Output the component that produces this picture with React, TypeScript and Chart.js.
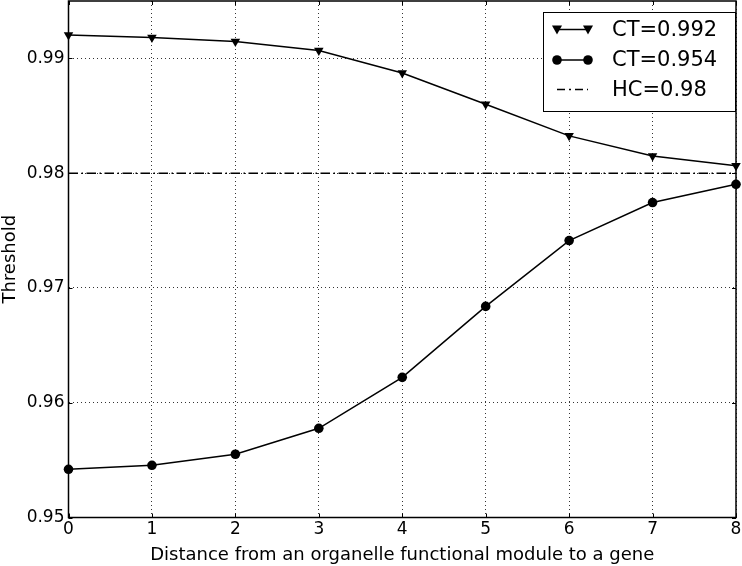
import React, { useEffect, useRef } from "react";
import { Chart, registerables } from "chart.js";

Chart.register(...registerables);

const distances = [0, 1, 2, 3, 4, 5, 6, 7, 8];
const ct992 = [0.99203, 0.99183, 0.99148, 0.99068, 0.98872, 0.98600, 0.98325, 0.98150, 0.98065];
const ct954 = [0.95420, 0.95455, 0.95551, 0.95777, 0.96221, 0.96839, 0.97413, 0.97744, 0.97903];
const hcValue = 0.98;
const yTicks = [0.95, 0.96, 0.97, 0.98, 0.99];
const xTicks = [0, 1, 2, 3, 4, 5, 6, 7, 8];
const legendLabels = ["CT=0.992", "CT=0.954", "HC=0.98"];

const FONT = "'DejaVu Sans', sans-serif";

export default function App() {
  const ref = useRef<HTMLCanvasElement | null>(null);

  useEffect(() => {
    if (!ref.current) return;

    const framePlugin = {
      id: "frame",
      afterDatasetsDraw(chart: any) {
        const { ctx, chartArea: a, scales } = chart;
        ctx.save();
        ctx.strokeStyle = "#000";
        ctx.lineWidth = 1;
        const tl = 4;
        xTicks.forEach((v) => {
          const x = Math.round(scales.x.getPixelForValue(v)) + 0.5;
          ctx.beginPath();
          ctx.moveTo(x, a.bottom);
          ctx.lineTo(x, a.bottom - tl);
          ctx.moveTo(x, a.top);
          ctx.lineTo(x, a.top + tl);
          ctx.stroke();
        });
        yTicks.forEach((v) => {
          const y = Math.round(scales.y.getPixelForValue(v)) + 0.5;
          ctx.beginPath();
          ctx.moveTo(a.left, y);
          ctx.lineTo(a.left + tl, y);
          ctx.moveTo(a.right, y);
          ctx.lineTo(a.right - tl, y);
          ctx.stroke();
        });
        ctx.lineWidth = 1.5;
        ctx.strokeRect(a.left, a.top, a.right - a.left, a.bottom - a.top);
        ctx.restore();
      },
      afterDraw(chart: any) {
        const { ctx } = chart;
        const bx = 543, by = 12, bw = 192, bh = 99;
        ctx.save();
        ctx.fillStyle = "#fff";
        ctx.fillRect(bx, by, bw, bh);
        ctx.strokeStyle = "#000";
        ctx.lineWidth = 1;
        ctx.strokeRect(bx + 0.5, by + 0.5, bw, bh);
        const rows = [29.5, 60, 89.5];
        const x1 = 557, x2 = 588;
        rows.forEach((y, i) => {
          ctx.strokeStyle = "#000";
          ctx.fillStyle = "#000";
          ctx.lineWidth = 1.5;
          if (i === 2) {
            ctx.setLineDash([8, 4, 2, 4]);
          } else {
            ctx.setLineDash([]);
          }
          ctx.beginPath();
          ctx.moveTo(x1, y);
          ctx.lineTo(x2, y);
          ctx.stroke();
          ctx.setLineDash([]);
          [x1, x2].forEach((mx) => {
            if (i === 0) {
              ctx.beginPath();
              ctx.moveTo(mx - 5, y - 4);
              ctx.lineTo(mx + 5, y - 4);
              ctx.lineTo(mx, y + 5);
              ctx.closePath();
              ctx.fill();
            } else if (i === 1) {
              ctx.beginPath();
              ctx.arc(mx, y, 4.8, 0, Math.PI * 2);
              ctx.fill();
            }
          });
          ctx.font = `21px ${FONT}`;
          ctx.textBaseline = "middle";
          ctx.textAlign = "left";
          ctx.fillText(legendLabels[i], 612, y + 1);
        });
        ctx.restore();
      },
    };

    const chart = new Chart(ref.current, {
      type: "line",
      data: {
        datasets: [
          {
            label: legendLabels[0],
            data: distances.map((d, i) => ({ x: d, y: ct992[i] })),
            borderColor: "#000",
            backgroundColor: "#000",
            borderWidth: 1.5,
            pointStyle: "triangle",
            rotation: 180,
            pointRadius: 5.5,
            pointBorderWidth: 0,
            tension: 0,
            clip: false,
          },
          {
            label: legendLabels[1],
            data: distances.map((d, i) => ({ x: d, y: ct954[i] })),
            borderColor: "#000",
            backgroundColor: "#000",
            borderWidth: 1.5,
            pointStyle: "circle",
            pointRadius: 4.8,
            pointBorderWidth: 0,
            tension: 0,
            clip: false,
          },
          {
            label: legendLabels[2],
            data: [
              { x: distances[0], y: hcValue },
              { x: distances[distances.length - 1], y: hcValue },
            ],
            borderColor: "#000",
            borderWidth: 1.5,
            borderDash: [9.5, 3.5, 1.5, 3.5],
            pointRadius: 0,
          },
        ],
      },
      options: {
        responsive: false,
        animation: false,
        layout: { autoPadding: false, padding: { top: 1, right: 6, left: 0, bottom: 0 } },
        plugins: {
          legend: { display: false },
          tooltip: { enabled: false },
        },
        scales: {
          x: {
            type: "linear",
            min: 0,
            max: 8,
            afterBuildTicks: (s: any) => {
              s.ticks = xTicks.map((v) => ({ value: v }));
            },
            afterFit: (s: any) => {
              s.height = 48.5;
              s.paddingLeft = 0;
              s.paddingRight = 0;
            },
            grid: { color: "#000", lineWidth: 0.8, drawTicks: false },
            border: { display: false, dash: [1, 3] },
            ticks: {
              color: "#000",
              font: { family: FONT, size: 17 },
              padding: 2,
              maxRotation: 0,
              callback: (v: any) => String(v),
            },
            title: {
              display: true,
              text: "Distance from an organelle functional module to a gene",
              color: "#000",
              font: { family: FONT, size: 18 },
              padding: { top: 0, bottom: 0 },
            },
          },
          y: {
            type: "linear",
            min: 0.95,
            max: 0.995,
            afterBuildTicks: (s: any) => {
              s.ticks = yTicks.map((v) => ({ value: v }));
            },
            afterFit: (s: any) => {
              s.width = 68.5;
              s.paddingTop = 0;
              s.paddingBottom = 0;
            },
            grid: { color: "#000", lineWidth: 0.8, drawTicks: false },
            border: { display: false, dash: [1, 3] },
            ticks: {
              color: "#000",
              font: { family: FONT, size: 17 },
              padding: 4,
              callback: (v: any) => Number(v).toFixed(2),
            },
            title: {
              display: true,
              text: "Threshold",
              color: "#000",
              font: { family: FONT, size: 18 },
              padding: { top: 0, bottom: 0 },
            },
          },
        },
      },
      plugins: [framePlugin],
    });

    return () => chart.destroy();
  }, []);

  return (
    <div style={{ position: "fixed", left: 0, top: 0, width: 742, height: 566, background: "#fff" }}>
      <canvas ref={ref} width={742} height={566} />
    </div>
  );
}
